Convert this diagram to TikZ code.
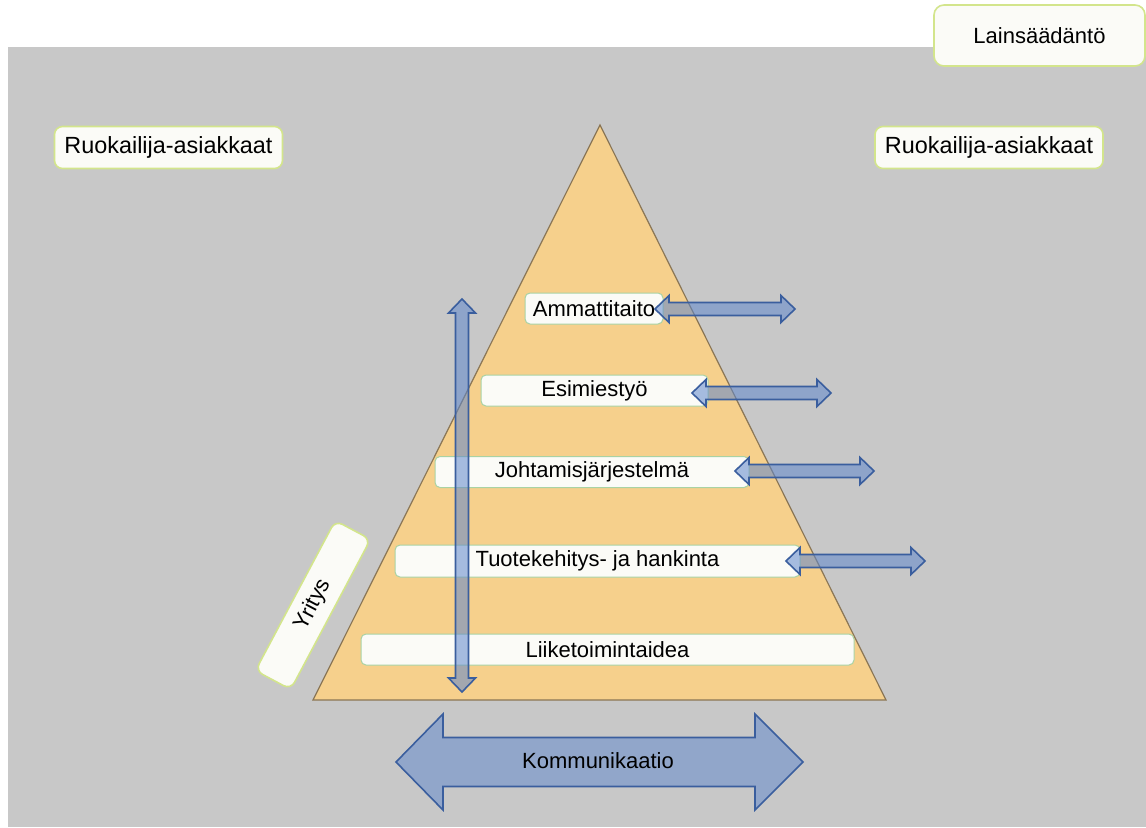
\documentclass[tikz,border=0pt]{standalone}
\usepackage{fontspec}
\setmainfont{Liberation Sans}
\definecolor{bggray}{HTML}{C8C8C8}
\definecolor{pyrorange}{HTML}{F6D08C}
\definecolor{pyrline}{HTML}{8A7656}
\definecolor{boxwhite}{HTML}{FBFBF7}
\definecolor{tagline}{HTML}{D3E58C}
\definecolor{layerline}{HTML}{A9D2A4}
\definecolor{arrowblue}{HTML}{5F87CC}
\definecolor{arrowline}{HTML}{3A5E9E}

\begin{document}
\begin{tikzpicture}[x=.5pt, y=.5pt, font=\fontsize{11}{13}\selectfont,
  tag/.style={draw=tagline, line width=.8pt, fill=boxwhite, rounded corners=4pt, inner sep=0pt},
  layer/.style={draw=layerline, line width=.5pt, fill=boxwhite, rounded corners=2.5pt, inner sep=0pt, minimum height=15.5pt},
  flow/.style={draw=arrowline, line width=.8pt, fill=arrowblue, fill opacity=.55, line join=miter}]
\useasboundingbox (0,0) rectangle (1146,827);
\fill[bggray] (8,0) rectangle (1146,780);

% pyramid
\coordinate (top) at (600,702);
\coordinate (bl) at (313,127);
\coordinate (br) at (886,127);
\draw[pyrline, line width=.6pt, fill=pyrorange] (top) -- (bl) -- (br) -- cycle;

% outside labels
\node[tag, minimum width=105.5pt, minimum height=30.5pt, rounded corners=5pt] (laki) at (1039.5,791.5) {Lainsäädäntö};
\node[tag, minimum width=114pt, minimum height=21pt, font=\fontsize{11.7}{13}\selectfont] (ruokaL) at (168.5,679.5) {Ruokailija-asiakkaat};
\node[tag, minimum width=114pt, minimum height=21pt, font=\fontsize{11.7}{13}\selectfont] (ruokaR) at (989,679.5) {Ruokailija-asiakkaat};

% layers
\node[layer, minimum width=69pt] (amm) at (594,518.5) {Ammattitaito};
\node[layer, minimum width=113.5pt] (esim) at (594.5,436.5) {Esimiestyö};
\node[layer, minimum width=157pt] (johto) at (592,355) {Johtamisjärjestelmä};
\node[layer, minimum width=202.5pt, minimum height=16pt] (tuote) at (597.5,266) {Tuotekehitys- ja hankinta};
\node[layer, minimum width=246.5pt] (liike) at (607.5,177.5) {Liiketoimintaidea};

% vertical arrow
\draw[flow] (462,528) -- ++(-13.5,-14) -- ++(7,0) -- (455.5,149) -- ++(-7,0) -- (462,135)
  -- ++(13.5,14) -- ++(-7,0) -- (468.5,514) -- ++(7,0) -- cycle;

% arrows out of the layers
\foreach \a/\b/\y in {655/795/518, 692/831/434, 735/874/356, 786/925/266}{
\draw[flow] (\a,\y) -- ++(14,13.5) -- ++(0,-7) -- (\b-14,\y+6.5) -- ++(0,7) -- (\b,\y)
  -- ++(-14,-13.5) -- ++(0,7) -- (\a+14,\y-6.5) -- ++(0,-7) -- cycle;
}

\node[tag, minimum width=85pt, minimum height=20pt, rotate=62] (yritys) at (313,222) {Yritys};

% communication
\draw[flow, fill opacity=.52] (396,65) -- (443,113) -- (443,89.5) -- (755,89.5) -- (755,113) -- (803,65)
  -- (755,17) -- (755,40.5) -- (443,40.5) -- (443,17) -- cycle;
\node (komm) at (598,66) {Kommunikaatio};
\end{tikzpicture}
\end{document}
